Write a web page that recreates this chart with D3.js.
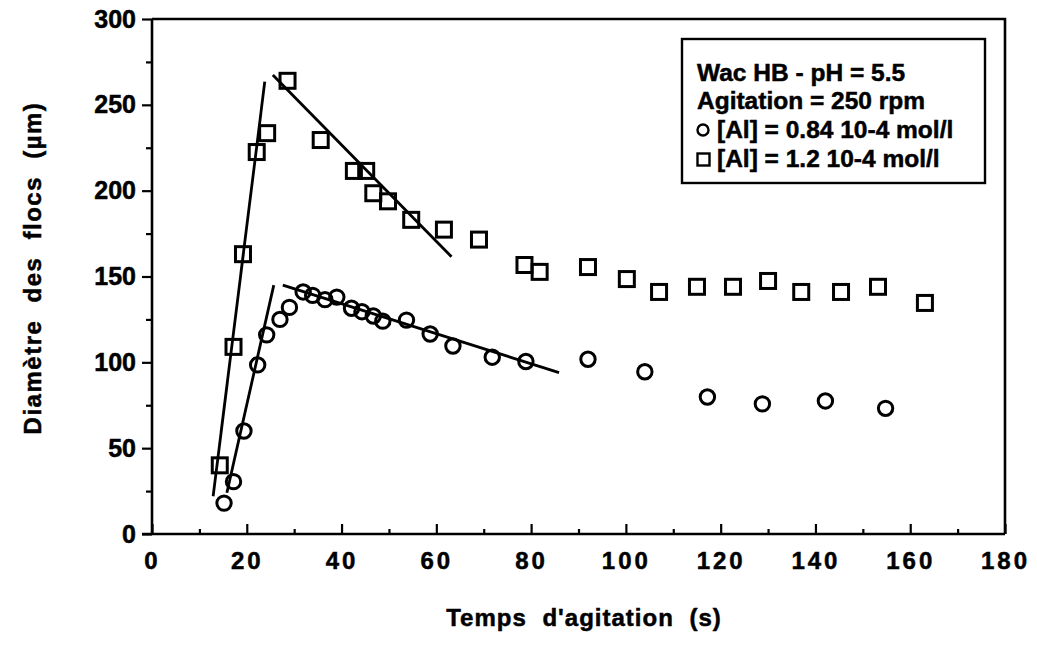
<!DOCTYPE html>
<html><head><meta charset="utf-8">
<script src="https://cdn.jsdelivr.net/npm/d3@7"></script>
<style>
html,body{margin:0;padding:0;background:#fff;}
svg{display:block;}
text{font-family:"Liberation Sans",Arial,Helvetica,sans-serif;font-weight:bold;fill:#000;stroke:#000;stroke-width:0.5px;}
</style></head>
<body>
<svg id="chart" width="1037" height="645"></svg>
<script>
// ---- data ----
const circleX = [15.2, 17.2, 19.4, 22.3, 24.2, 27.0, 29.0, 31.9, 33.9, 36.5, 39.0, 42.1, 44.3, 46.7, 48.7, 53.7, 58.7, 63.5, 71.8, 78.9, 92.0, 104.0, 117.2, 128.8, 142.1, 154.8];
const circleY = [18, 30.5, 60, 98.5, 116, 125, 132, 141, 139, 136.5, 138, 131.5, 129.5, 127, 124, 124.6, 116.5, 109.5, 103, 100.5, 101.8, 94.5, 79.8, 75.8, 77.5, 73.2];
const squareX = [14.3, 17.2, 19.2, 22.1, 24.3, 28.6, 35.6, 42.6, 45.2, 46.7, 49.8, 54.7, 61.6, 69.0, 78.6, 81.8, 92.0, 100.2, 107.0, 115.0, 122.6, 130.0, 137.0, 145.4, 153.2, 163.1];
const squareY = [40, 109, 163, 222.5, 233.5, 264, 229.5, 211.5, 211.5, 198.5, 193.8, 183, 177.3, 171.5, 156.7, 152.7, 155.5, 148.5, 141, 144, 144, 147.4, 141, 141, 144, 134.6];
// fitted trend segments [x1, y1, x2, y2]
const fitLines = [
  [12.9, 22, 23.8, 263.5],
  [25.5, 267.4, 63.2, 161.5],
  [15.8, 24, 25.7, 145],
  [27.6, 145, 85.9, 94]
];
const xTicks = [0, 20, 40, 60, 80, 100, 120, 140, 160, 180];
const xMinor = [10, 30, 50, 70, 90, 110, 130, 150, 170];
const yTicks = [0, 50, 100, 150, 200, 250, 300];
const yMinor = [25, 75, 125, 175, 225, 275];
const legendLines = ["Wac HB - pH = 5.5", "Agitation = 250 rpm", "[Al] = 0.84 10-4 mol/l", "[Al] = 1.2 10-4 mol/l"];
const xTitle = "Temps d'agitation (s)";
const yTitle = "Diamètre des flocs (µm)";

// ---- chart ----
const svg = d3.select("#chart");
const L = 152, R = 1005, T = 19, B = 534;
const x = d3.scaleLinear().domain([0, 180]).range([L, R]);
const y = d3.scaleLinear().domain([0, 300]).range([B, T]);
const SW = 2.6;

// frame top/right
svg.append("path")
  .attr("d", `M${L},${T}H${R}V${B}`)
  .attr("fill", "none").attr("stroke", "#000").attr("stroke-width", SW);

// y axis
const gy = svg.append("g").attr("transform", `translate(${L},0)`)
  .call(d3.axisLeft(y).tickValues(yTicks).tickSize(10).tickPadding(6).tickFormat(d3.format("d")));
svg.append("g").attr("transform", `translate(${L},0)`)
  .call(d3.axisLeft(y).tickValues(yMinor).tickSize(6).tickFormat(""))
  .select(".domain").remove();
gy.selectAll("text").style("font-size", "25px");

// x axis
const gx = svg.append("g").attr("transform", `translate(0,${B})`)
  .call(d3.axisBottom(x).tickValues(xTicks).tickSize(-10).tickPadding(18).tickFormat(d3.format("d")));
svg.append("g").attr("transform", `translate(0,${B})`)
  .call(d3.axisBottom(x).tickValues(xMinor).tickSize(-5).tickFormat(""))
  .select(".domain").remove();
gx.selectAll("text").style("font-size", "24px").style("letter-spacing", "3px");

svg.selectAll(".domain").attr("stroke-width", SW);
svg.selectAll(".tick line").attr("stroke-width", 2.2);
svg.selectAll(".tick text").attr("fill", "#000").style("font-family", "'Liberation Sans',Arial,sans-serif");
gx.select(".domain").attr("d", `M${L - 10},0H${R}`);
gy.select(".domain").attr("d", `M0,${B}V${T}`);

// fitted lines
svg.append("g").selectAll("line").data(fitLines).join("line")
  .attr("x1", d => x(d[0])).attr("y1", d => y(d[1]))
  .attr("x2", d => x(d[2])).attr("y2", d => y(d[3]))
  .attr("stroke", "#000").attr("stroke-width", 2.8);

// circles
svg.append("g").selectAll("circle").data(circleX.map((v, i) => [v, circleY[i]])).join("circle")
  .attr("cx", d => x(d[0])).attr("cy", d => y(d[1])).attr("r", 7.2)
  .attr("fill", "none").attr("stroke", "#000").attr("stroke-width", 3);

// squares
const S = 15;
svg.append("g").selectAll("rect").data(squareX.map((v, i) => [v, squareY[i]])).join("rect")
  .attr("x", d => x(d[0]) - S / 2).attr("y", d => y(d[1]) - S / 2)
  .attr("width", S).attr("height", S)
  .attr("fill", "none").attr("stroke", "#000").attr("stroke-width", 3);

// legend
const lg = svg.append("g");
lg.append("rect").attr("x", 682).attr("y", 39).attr("width", 303).attr("height", 144)
  .attr("fill", "#fff").attr("stroke", "#000").attr("stroke-width", 2.4);
const baseY = [81, 109, 138, 167];
lg.selectAll("text").data(legendLines).join("text")
  .attr("x", (d, i) => i < 2 ? 697 : 717).attr("y", (d, i) => baseY[i])
  .style("font-size", "24.5px").text(d => d);
lg.append("circle").attr("cx", 703).attr("cy", 130).attr("r", 5.5)
  .attr("fill", "none").attr("stroke", "#000").attr("stroke-width", 2.4);
lg.append("rect").attr("x", 697.5).attr("y", 153.5).attr("width", 12).attr("height", 12)
  .attr("fill", "none").attr("stroke", "#000").attr("stroke-width", 2.4);

// axis titles
svg.append("text").attr("x", 584).attr("y", 626).attr("text-anchor", "middle")
  .style("font-size", "24px").style("letter-spacing", "1px").style("word-spacing", "8px").text(xTitle);
svg.append("text").attr("transform", "translate(41,268) rotate(-90)").attr("text-anchor", "middle")
  .style("font-size", "24px").style("letter-spacing", "1.5px").style("word-spacing", "9px").text(yTitle);
</script>
</body></html>
